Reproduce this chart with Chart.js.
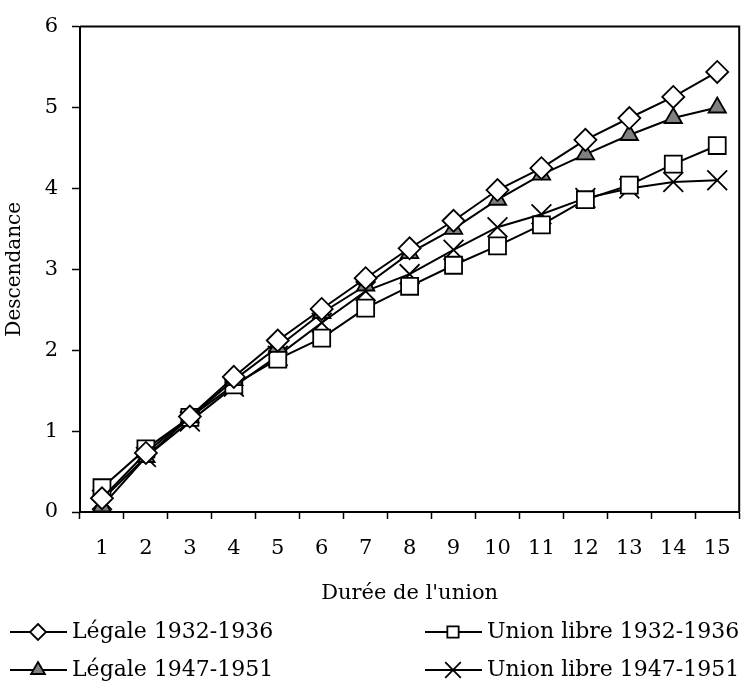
<!DOCTYPE html>
<html>
<head>
<meta charset="utf-8">
<script src="https://cdn.jsdelivr.net/npm/chart.js@4.4.1/dist/chart.umd.min.js"></script>
<style>
  html, body { margin: 0; padding: 0; background: #fff; }
  #wrap { width: 755px; height: 689px; }
</style>
</head>
<body>
<div id="wrap"><canvas id="chart" width="755" height="689"></canvas></div>
<script>
const durees = ['1', '2', '3', '4', '5', '6', '7', '8', '9', '10', '11', '12', '13', '14', '15'];
const legale1932 = [0.17, 0.73, 1.18, 1.67, 2.12, 2.51, 2.89, 3.26, 3.60, 3.98, 4.25, 4.60, 4.87, 5.13, 5.44];
const legale1947 = [0.07, 0.68, 1.17, 1.63, 2.04, 2.46, 2.80, 3.20, 3.50, 3.86, 4.17, 4.42, 4.66, 4.87, 5.00];
const libre1932 = [0.30, 0.78, 1.17, 1.57, 1.89, 2.15, 2.52, 2.79, 3.05, 3.29, 3.55, 3.86, 4.04, 4.30, 4.53];
const libre1947 = [0.15, 0.68, 1.12, 1.55, 1.93, 2.34, 2.73, 2.94, 3.24, 3.52, 3.68, 3.88, 4.00, 4.08, 4.10];
const yTicks = [0, 1, 2, 3, 4, 5, 6];

const serif = "'DejaVu Serif', 'Liberation Serif', serif";

function serie(label, data, style, radius, fill) {
    return {
        label,
        data,
        borderColor: '#000',
        borderWidth: 2,
        pointStyle: style,
        pointRadius: radius,
        pointHoverRadius: radius,
        pointBackgroundColor: fill,
        pointBorderColor: '#000',
        pointBorderWidth: 1.8,
        tension: 0,
        fill: false,
    };
}

// cadre complet autour de la zone du graphique
const cadre = {
    id: 'cadre',
    beforeDatasetsDraw(chart) {
        const { ctx, chartArea: a } = chart;
        ctx.save();
        ctx.strokeStyle = '#000';
        ctx.lineWidth = 2;
        ctx.beginPath();
        ctx.moveTo(a.left, a.top);
        ctx.lineTo(a.right, a.top);
        ctx.lineTo(a.right, a.bottom);
        ctx.stroke();
        ctx.restore();
    },
};

function marqueur(ctx, style, x, y, r, fill) {
    ctx.beginPath();
    if (style === 'rectRot') {
        ctx.moveTo(x, y - r); ctx.lineTo(x + r, y); ctx.lineTo(x, y + r); ctx.lineTo(x - r, y);
        ctx.closePath();
    } else if (style === 'rect') {
        const s = r * Math.SQRT1_2;
        ctx.rect(x - s, y - s, 2 * s, 2 * s);
    } else if (style === 'triangle') {
        ctx.moveTo(x, y - r);
        ctx.lineTo(x + r * 0.866, y + r * 0.5);
        ctx.lineTo(x - r * 0.866, y + r * 0.5);
        ctx.closePath();
    } else {
        const s = r * Math.SQRT1_2;
        ctx.moveTo(x - s, y - s); ctx.lineTo(x + s, y + s);
        ctx.moveTo(x + s, y - s); ctx.lineTo(x - s, y + s);
        ctx.stroke();
        return;
    }
    ctx.fillStyle = fill;
    ctx.fill();
    ctx.stroke();
}

// légende en deux colonnes sous l'axe
const legende = {
    id: 'legende',
    afterDraw(chart) {
        const { ctx } = chart;
        const places = [
            { i: 0, x: 10, y: 632 },
            { i: 2, x: 425, y: 632 },
            { i: 1, x: 10, y: 670 },
            { i: 3, x: 425, y: 670 },
        ];
        ctx.save();
        ctx.font = '22px ' + serif;
        ctx.textBaseline = 'middle';
        places.forEach((p) => {
            const ds = chart.data.datasets[p.i];
            ctx.strokeStyle = '#000';
            ctx.lineWidth = 1.8;
            ctx.beginPath();
            ctx.moveTo(p.x, p.y);
            ctx.lineTo(p.x + 57, p.y);
            ctx.stroke();
            marqueur(ctx, ds.pointStyle, p.x + 28, p.y, ds.pointStyle === 'crossRot' ? 11 : 8, ds.pointBackgroundColor);
            ctx.fillStyle = '#000';
            ctx.fillText(ds.label, p.x + 62, p.y);
        });
        ctx.restore();
    },
};

new Chart(document.getElementById('chart'), {
    type: 'line',
    data: {
        labels: durees,
        datasets: [
            serie('Légale 1932-1936', legale1932, 'rectRot', 11, '#fff'),
            serie('Légale 1947-1951', legale1947, 'triangle', 10, '#808080'),
            serie('Union libre 1932-1936', libre1932, 'rect', 12, '#fff'),
            serie('Union libre 1947-1951', libre1947, 'crossRot', 14, '#fff'),
        ],
    },
    options: {
        responsive: false,
        animation: false,
        events: [],
        layout: { padding: { left: 0, right: 14, top: 19, bottom: 83 } },
        plugins: {
            legend: { display: false },
            tooltip: { enabled: false },
        },
        scales: {
            x: {
                offset: true,
                grid: {
                    offset: true,
                    drawOnChartArea: false,
                    tickLength: 7,
                    tickColor: '#000',
                    tickWidth: 1.5,
                },
                border: { display: true, color: '#000', width: 2 },
                ticks: {
                    color: '#000',
                    padding: 17,
                    maxRotation: 0,
                    autoSkip: false,
                    font: { family: serif, size: 21 },
                },
                title: {
                    display: true,
                    text: "Durée de l'union",
                    color: '#000',
                    padding: 0,
                    font: { family: serif, size: 21 },
                },
                afterFit(scale) { scale.height = 94; },
            },
            y: {
                min: 0,
                max: 6,
                afterBuildTicks(scale) { scale.ticks = yTicks.map((v) => ({ value: v })); },
                grid: {
                    drawOnChartArea: false,
                    tickLength: 8,
                    tickColor: '#000',
                    tickWidth: 1.5,
                },
                border: { display: true, color: '#000', width: 2 },
                ticks: {
                    color: '#000',
                    padding: 14,
                    font: { family: serif, size: 21 },
                },
                title: {
                    display: true,
                    text: 'Descendance',
                    color: '#000',
                    padding: { top: 3, bottom: 0 },
                    font: { family: serif, size: 20 },
                },
                afterFit(scale) { scale.width = 80; },
            },
        },
    },
    plugins: [cadre, legende],
});
</script>
</body>
</html>
